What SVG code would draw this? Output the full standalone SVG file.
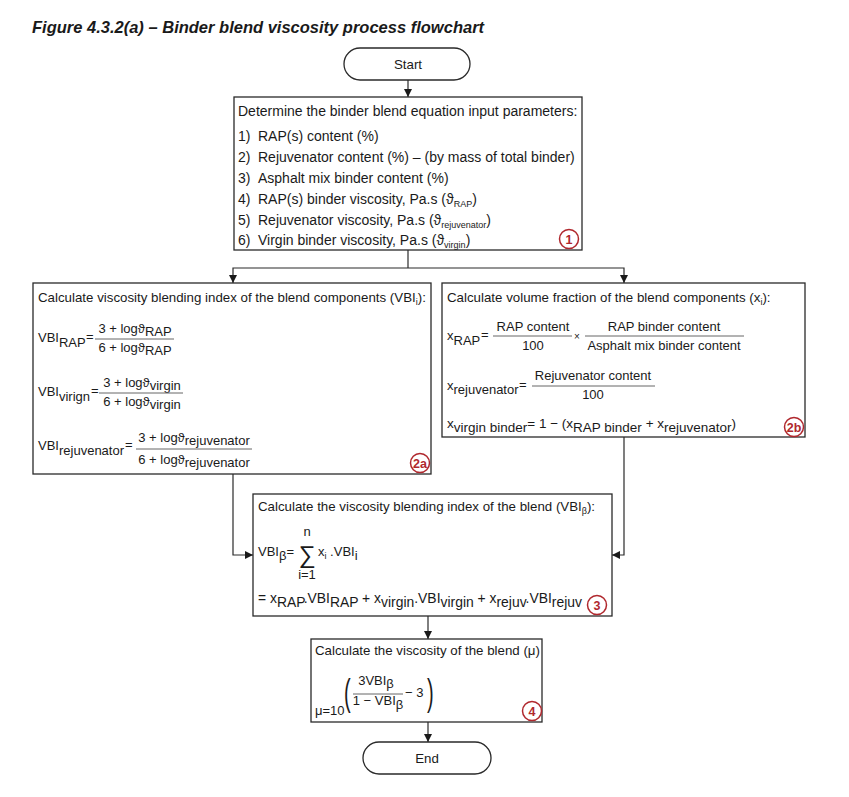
<svg xmlns="http://www.w3.org/2000/svg" width="849" height="797" viewBox="0 0 849 797">
<defs>
<marker id="ah" viewBox="0 0 10 10" refX="10" refY="5" markerWidth="8" markerHeight="8" markerUnits="userSpaceOnUse" orient="auto">
<path d="M0,0 L10,5 L0,10 z" fill="#1a1a1a"/>
</marker>
<style>
text{font-family:"Liberation Sans",Arial,sans-serif;font-size:13.3px;fill:#1a1a1a}
.b1{font-size:14px}
.f{font-size:13px}
.box{fill:#fff;stroke:#2a2a2a;stroke-width:1.3}
.line{fill:none;stroke:#2a2a2a;stroke-width:1.2}
.arr{fill:none;stroke:#2a2a2a;stroke-width:1.2;marker-end:url(#ah)}
.frac{stroke:#666;stroke-width:1}
.badge circle{fill:#fff;stroke:#b0282e;stroke-width:1.5}
.badge text{fill:#b0282e;font-weight:bold;font-size:12.5px;text-anchor:middle}
.title{font-weight:bold;font-style:italic;font-size:16.5px}
.c{text-anchor:middle}
.sm{font-size:9px}
</style>
</defs>

<text class="title" x="32" y="33">Figure 4.3.2(a) – Binder blend viscosity process flowchart</text>

<g id="connectors">
<line class="arr" x1="408" y1="80" x2="408" y2="97"/>
<polyline class="line" points="408,250 408,268"/>
<polyline class="arr" points="408,268 233,268 233,283"/>
<polyline class="arr" points="408,268 624,268 624,283"/>
<polyline class="arr" points="233,474 233,555 253,555"/>
<polyline class="arr" points="624,437 624,555 612,555"/>
<line class="arr" x1="428" y1="616" x2="428" y2="639"/>
<line class="arr" x1="428" y1="722" x2="428" y2="742"/>
</g>

<g id="start">
<rect class="box" x="344" y="48" width="126" height="32" rx="16"/>
<text class="c" x="408" y="69">Start</text>
</g>

<g id="step1">
<rect class="box" x="234" y="97" width="348" height="153"/>
<text class="b1" x="238" y="116">Determine the binder blend equation input parameters:</text>
<text class="b1" x="238" y="141">1)</text><text class="b1" x="258" y="141">RAP(s) content (%)</text>
<text class="b1" x="238" y="162">2)</text><text class="b1" x="258" y="162">Rejuvenator content (%) – (by mass of total binder)</text>
<text class="b1" x="238" y="183">3)</text><text class="b1" x="258" y="183">Asphalt mix binder content (%)</text>
<text class="b1" x="238" y="204">4)</text><text class="b1" x="258" y="204">RAP(s) binder viscosity, Pa.s (ϑ<tspan class="sm" dy="3">RAP</tspan><tspan dy="-3">)</tspan></text>
<text class="b1" x="238" y="225">5)</text><text class="b1" x="258" y="225">Rejuvenator viscosity, Pa.s (ϑ<tspan class="sm" dy="3">rejuvenator</tspan><tspan dy="-3">)</tspan></text>
<text class="b1" x="238" y="245">6)</text><text class="b1" x="258" y="245">Virgin binder viscosity, Pa.s (ϑ<tspan class="sm" dy="3">virgin</tspan><tspan dy="-3">)</tspan></text>
<g class="badge"><circle cx="569" cy="239" r="9.5"/><text x="569" y="243.5">1</text></g>
</g>

<g id="step2a">
<rect class="box" x="33" y="283" width="398" height="191"/>
<text x="38" y="302">Calculate viscosity blending index of the blend components (VBI<tspan class="sm" dy="3">i</tspan><tspan dy="-3">):</tspan></text>
<text class="f" x="38" y="342">VBI<tspan dy="5">RAP</tspan></text>
<text class="f" x="86" y="341">=</text>
<text class="f c" x="135" y="333">3 + logϑ<tspan dy="3">RAP</tspan></text>
<line class="frac" x1="95" y1="339" x2="174" y2="339"/>
<text class="f c" x="135" y="352">6 + logϑ<tspan dy="3">RAP</tspan></text>

<text class="f" x="38" y="396">VBI<tspan dy="5">virign</tspan></text>
<text class="f" x="91" y="395">=</text>
<text class="f c" x="142" y="387">3 + logϑ<tspan dy="3">virgin</tspan></text>
<line class="frac" x1="99" y1="393" x2="183" y2="393"/>
<text class="f c" x="142" y="406">6 + logϑ<tspan dy="3">virgin</tspan></text>

<text class="f" x="38" y="450">VBI<tspan dy="5">rejuvenator</tspan></text>
<text class="f" x="125" y="449">=</text>
<text class="f c" x="194" y="442">3 + logϑ<tspan dy="3">rejuvenator</tspan></text>
<line class="frac" x1="136" y1="449" x2="252" y2="449"/>
<text class="f c" x="194" y="464">6 + logϑ<tspan dy="3">rejuvenator</tspan></text>
<g class="badge"><circle cx="420" cy="463" r="9.5"/><text x="420" y="467.5">2a</text></g>
</g>

<g id="step2b">
<rect class="box" x="442" y="283" width="363" height="154"/>
<text x="447" y="302">Calculate volume fraction of the blend components (x<tspan class="sm" dy="3">i</tspan><tspan dy="-3">):</tspan></text>
<text class="f" x="447" y="340">x<tspan dy="5">RAP</tspan></text>
<text class="f" x="481" y="339">=</text>
<text class="f c" x="533" y="331">RAP content</text>
<line class="frac" x1="493" y1="336" x2="572" y2="336"/>
<text class="f c" x="533" y="350">100</text>
<text x="574" y="340" style="font-size:10px">×</text>
<text class="f c" x="664" y="331">RAP binder content</text>
<line class="frac" x1="585" y1="336" x2="744" y2="336"/>
<text class="f c" x="664" y="350">Asphalt mix binder content</text>

<text class="f" x="447" y="390">x<tspan dy="4">rejuvenator</tspan></text>
<text class="f" x="519" y="389">=</text>
<text class="f c" x="593" y="380">Rejuvenator content</text>
<line class="frac" x1="532" y1="386" x2="655" y2="386"/>
<text class="f c" x="593" y="399">100</text>

<text x="447" y="428" style="font-size:13.5px">x<tspan dy="4">virgin binder</tspan><tspan dy="-4">= 1 − (x</tspan><tspan dy="4">RAP binder</tspan><tspan dy="-4"> + x</tspan><tspan dy="4">rejuvenator</tspan><tspan dy="-4">)</tspan></text>
<g class="badge"><circle cx="794" cy="427" r="9.5"/><text x="794" y="431.5">2b</text></g>
</g>

<g id="step3">
<rect class="box" x="253" y="494" width="359" height="122"/>
<text x="258" y="511">Calculate the viscosity blending index of the blend (VBI<tspan class="sm" dy="3">β</tspan><tspan dy="-3">):</tspan></text>
<text class="f" x="258" y="556">VBI<tspan dy="4">β</tspan><tspan dy="-4">=</tspan></text>
<text class="f c" x="307" y="536">n</text>
<text class="c" x="307" y="563" style="font-size:24px">∑</text>
<text class="f c" x="307" y="579">i=1</text>
<text class="f" x="318" y="556">x<tspan class="sm" dy="3">i</tspan><tspan dy="-3"> .VBI</tspan><tspan dy="4">i</tspan></text>
<text x="258" y="603" style="font-size:13.9px">= x<tspan dy="4">RAP</tspan><tspan dy="-4">.VBI</tspan><tspan dy="4">RAP</tspan><tspan dy="-4"> + x</tspan><tspan dy="4">virgin</tspan><tspan dy="-4">.VBI</tspan><tspan dy="4">virgin</tspan><tspan dy="-4"> + x</tspan><tspan dy="4">rejuv</tspan><tspan dy="-4">.VBI</tspan><tspan dy="4">rejuv</tspan></text>
<g class="badge"><circle cx="597" cy="605" r="9.5"/><text x="597" y="609.5">3</text></g>
</g>

<g id="step4">
<rect class="box" x="311" y="639" width="231" height="83"/>
<text x="315" y="655">Calculate the viscosity of the blend (μ)</text>
<text class="f" x="315" y="715">μ=10</text>
<text transform="translate(344,704.5) scale(1,1.8)" style="font-size:20px">(</text>
<text class="f c" x="376" y="685">3VBI<tspan dy="3">β</tspan></text>
<line class="frac" x1="353" y1="694" x2="403" y2="694"/>
<text class="f c" x="378" y="705">1 − VBI<tspan dy="4">β</tspan></text>
<text class="f" x="405" y="697">− 3</text>
<text transform="translate(427,704.5) scale(1,1.8)" style="font-size:20px">)</text>
<g class="badge"><circle cx="532" cy="711" r="9.5"/><text x="532" y="715.5">4</text></g>
</g>

<g id="end">
<rect class="box" x="363" y="742" width="128" height="32" rx="16"/>
<text class="c" x="427" y="763">End</text>
</g>
</svg>
